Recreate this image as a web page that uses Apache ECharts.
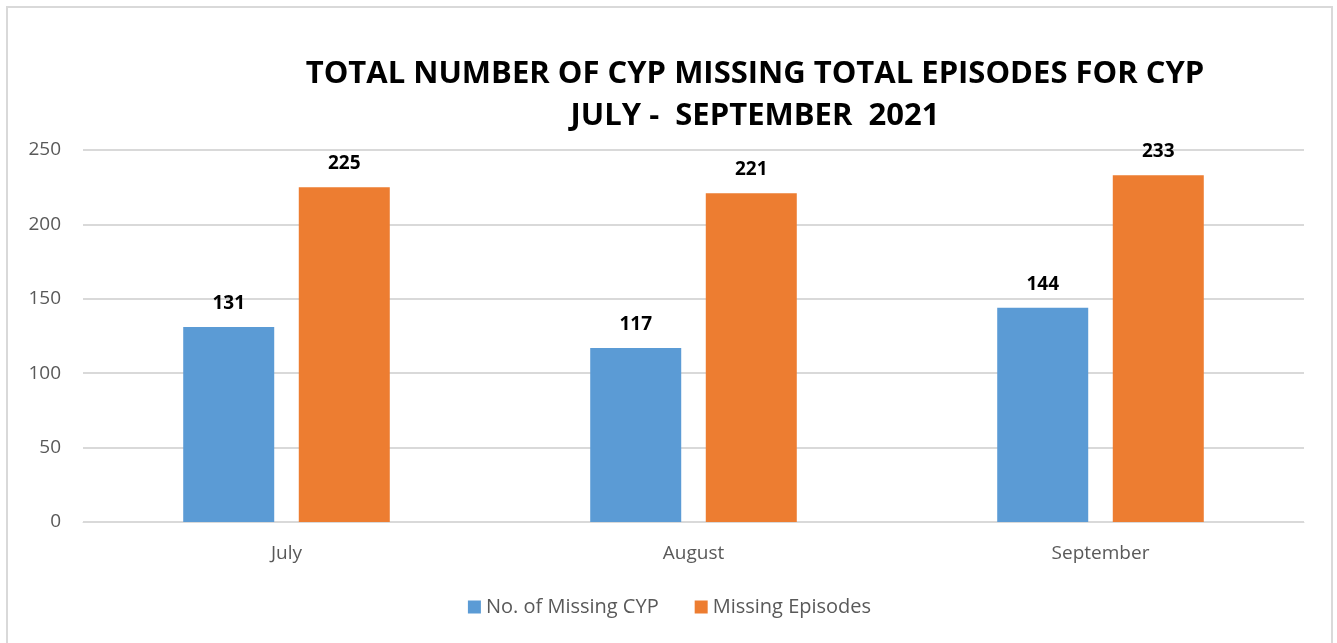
<!DOCTYPE html>
<html>
<head>
<meta charset="utf-8">
<script src="https://cdn.jsdelivr.net/npm/echarts@6/dist/echarts.min.js"></script>
<style>
html,body{margin:0;padding:0;background:#fff;}
#main{position:absolute;left:6px;top:6px;width:1327px;height:645px;border:2px solid #d9d9d9;border-bottom:none;box-sizing:border-box;}
</style>
</head>
<body>
<div id="main"></div>
<script>
var months = ['July', 'August', 'September'];
var missingCyp = [131, 117, 144];
var missingEpisodes = [225, 221, 233];
var yTicks = [0, 250, 50];

var labelStyle = {
	show: true,
	position: 'top',
	distance: 14,
	color: '#000',
	fontWeight: 'bold',
	fontSize: 19,
	fontFamily: 'Open Sans'
};

var chart = echarts.init(document.getElementById('main'));
chart.setOption({
	animation: false,
	title: {
		text: 'TOTAL NUMBER OF CYP MISSING TOTAL EPISODES FOR CYP\nJULY -  SEPTEMBER  2021',
		left: 742,
		textAlign: 'center',
		top: 40,
		textStyle: {
			fontFamily: 'Open Sans',
			fontSize: 31,
			fontWeight: 'bold',
			color: '#000',
			lineHeight: 42
		}
	},
	legend: {
		top: 584,
		left: 'center',
		itemWidth: 13,
		itemHeight: 13,
		itemGap: 36,
		icon: 'rect',
		textStyle: { fontSize: 20, color: '#595959', fontFamily: 'Open Sans' },
		data: ['No. of Missing CYP', 'Missing Episodes']
	},
	grid: { left: 75, right: 27, top: 142, bottom: 129 },
	xAxis: {
		type: 'category',
		data: months,
		axisTick: { show: false },
		axisLine: { lineStyle: { color: '#d9d9d9', width: 1 } },
		axisLabel: { color: '#595959', fontSize: 19, margin: 22, fontFamily: 'Open Sans' }
	},
	yAxis: {
		type: 'value',
		min: yTicks[0],
		max: yTicks[1],
		interval: yTicks[2],
		axisLabel: { color: '#595959', fontSize: 19, margin: 22, fontFamily: 'Open Sans' },
		splitLine: { lineStyle: { color: '#d9d9d9', width: 2 } }
	},
	series: [
		{
			name: 'No. of Missing CYP',
			type: 'bar',
			data: missingCyp,
			barWidth: 91,
			barGap: '27%',
			itemStyle: { color: '#5b9bd5' },
			label: labelStyle
		},
		{
			name: 'Missing Episodes',
			type: 'bar',
			data: missingEpisodes,
			barWidth: 91,
			itemStyle: { color: '#ed7d31' },
			label: labelStyle
		}
	]
});
</script>
</body>
</html>
